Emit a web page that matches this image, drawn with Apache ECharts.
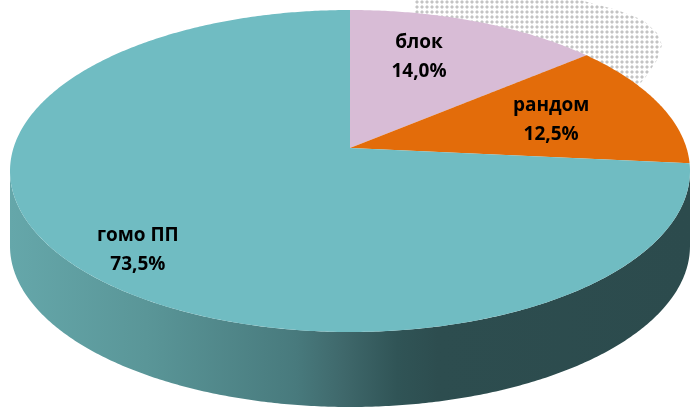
<!DOCTYPE html>
<html><head><meta charset="utf-8">
<script src="https://cdn.jsdelivr.net/npm/echarts@6/dist/echarts.min.js"></script>
<style>html,body{margin:0;padding:0;background:#fff}#c{width:691px;height:411px}</style>
</head><body><div id="c"></div>
<script>
// ---- data ----
const categories = ['блок', 'рандом', 'гомо ПП'];
const shares = [14.0, 12.5, 73.5];

// ---- styles / geometry ----
const sliceColors = ['#D8BCD6', '#E36C0A', '#70BCC2'];
const G = {cx: 350, cy: 171, rx: 340, ry: 161, ax: 350, ay: 148, h: 75};
const labelPlace = [[0.62, -9, -12], [0.62, 10, 0], [0.77, -1, 11]];
const total = shares.reduce((a, b) => a + b, 0);

function rayPoint(theta) {
  const px = (G.ax - G.cx) / G.rx, py = (G.ay - G.cy) / G.ry;
  const qx = Math.sin(theta), qy = -Math.cos(theta);
  const pq = px * qx + py * qy;
  const s = -pq + Math.sqrt(pq * pq - (px * px + py * py) + 1);
  const nx = px + s * qx, ny = py + s * qy;
  return {x: G.cx + G.rx * nx, y: G.cy + G.ry * ny, phi: Math.atan2(nx, -ny)};
}
function norm(a) { while (a < 0) a += 2 * Math.PI; return a; }

function makePattern() {
  const c = document.createElement('canvas');
  c.width = 5; c.height = 5;
  const g = c.getContext('2d');
  g.fillStyle = '#c4c4c4';
  g.fillRect(1, 1, 2, 2);
  g.fillStyle = '#e2e2e2';
  g.fillRect(0, 1, 1, 2); g.fillRect(3, 1, 1, 2); g.fillRect(1, 0, 2, 1); g.fillRect(1, 3, 2, 1);
  return c;
}

const wallGrad = {
  type: 'linear', x: G.cx - G.rx, y: 0, x2: G.cx + G.rx, y2: 0, global: true,
  colorStops: [
    {offset: 0, color: '#65A7AA'}, {offset: 0.2, color: '#5A9698'},
    {offset: 0.42, color: '#487A7D'}, {offset: 0.49, color: '#3F686B'},
    {offset: 0.57, color: '#305456'}, {offset: 0.63, color: '#2D4D4F'},
    {offset: 1, color: '#2C4B4D'}
  ]
};

function renderItem(params, api) {
  const i = params.dataIndex;
  let before = 0;
  for (let k = 0; k < i; k++) before += shares[k];
  const v = api.value(0);
  const t0 = before / total * 2 * Math.PI, t1 = (before + v) / total * 2 * Math.PI;
  const n = Math.max(8, Math.ceil((t1 - t0) / 0.01));
  const pts = [[G.ax, G.ay]];
  for (let k = 0; k <= n; k++) {
    const p = rayPoint(t0 + (t1 - t0) * k / n);
    pts.push([p.x, p.y]);
  }
  const children = [{
    type: 'polygon', z2: 10, shape: {points: pts},
    style: {fill: sliceColors[i], stroke: null}
  }];
  // front wall
  const p0 = rayPoint(t0), p1 = rayPoint(t1);
  let f0 = norm(p0.phi), f1 = norm(p1.phi);
  if (i === shares.length - 1 && f1 < f0) f1 = 2 * Math.PI;
  const a = Math.max(f0, Math.PI / 2), b = Math.min(f1, 3 * Math.PI / 2);
  if (b > a) {
    const w = [], m = Math.ceil((b - a) / 0.01);
    for (let k = 0; k <= m; k++) {
      const f = a + (b - a) * k / m;
      w.push([G.cx + G.rx * Math.sin(f), G.cy - G.ry * Math.cos(f)]);
    }
    for (let k = m; k >= 0; k--) {
      const f = a + (b - a) * k / m;
      w.push([G.cx + G.rx * Math.sin(f), G.cy - G.ry * Math.cos(f) + G.h]);
    }
    children.push({type: 'polygon', z2: 1, shape: {points: w}, style: {fill: wallGrad}});
  }
  // label
  const tm = (t0 + t1) / 2, pm = rayPoint(tm), lp = labelPlace[i];
  const lx = G.ax + lp[0] * (pm.x - G.ax) + lp[1];
  const ly = G.ay + lp[0] * (pm.y - G.ay) + lp[2];
  children.push({
    type: 'text', z2: 20, x: lx, y: ly,
    style: {
      text: categories[i] + '\n' + v.toFixed(1).replace('.', ',') + '%',
      fill: '#000', font: 'bold 19px "Open Sans"', align: 'center', verticalAlign: 'middle', lineHeight: 29
    }
  });
  return {type: 'group', children: children};
}

const chart = echarts.init(document.getElementById('c'), null, {renderer: 'canvas'});
chart.setOption({
  backgroundColor: '#fff',
  animation: false,
  graphic: [{
    type: 'polygon', z: 0,
    shape: {points: [[415, 0], [580, 0], [617, 10], [643, 20], [657, 33], [662, 45], [657, 60], [645, 78], [630, 95], [500, 160], [415, 60]]},
    style: {fill: {image: makePattern(), repeat: 'repeat'}}
  }],
  series: [{
    type: 'custom', coordinateSystem: 'none', z: 5,
    renderItem: renderItem,
    data: categories.map((c, i) => ({name: c, value: [shares[i], i]}))
  }]
});
</script></body></html>
